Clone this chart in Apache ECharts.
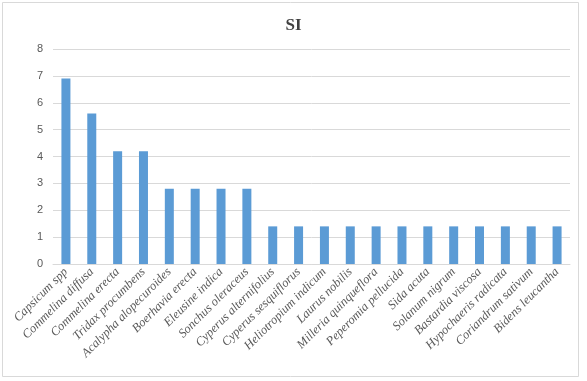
<!DOCTYPE html>
<html><head><meta charset="utf-8">
<script src="https://cdn.jsdelivr.net/npm/echarts@6/dist/echarts.min.js"></script>
<style>html,body{margin:0;padding:0;background:#fff}#c{width:587px;height:381px}</style>
</head><body><div id="c"></div>
<script>
const categories = ["Capsicum spp","Commelina diffusa","Commelina erecta","Tridax procumbens","Acalypha alopecuroides","Boerhavia erecta","Eleusine indica","Sonchus oleraceus","Cyperus alternifolius","Cyperus sesquiflorus","Heliotropium indicum","Laurus nobilis","Milleria quinqueflora","Peperomia pellucida","Sida acuta","Solanum nigrum","Bastardia viscosa","Hypochaeris radicata","Coriandrum sativum","Bidens leucantha"];
const siValues = [6.9,5.6,4.2,4.2,2.8,2.8,2.8,2.8,1.4,1.4,1.4,1.4,1.4,1.4,1.4,1.4,1.4,1.4,1.4,1.4];
const yTicks = [0,1,2,3,4,5,6,7,8];

const chart = echarts.init(document.getElementById('c'), null, {renderer:'canvas'});
chart.setOption({
  animation:false,
  backgroundColor:'#fff',
  graphic:[{type:'rect',shape:{x:2.5,y:2.5,width:576,height:374},style:{fill:'none',stroke:'#d9d9d9',lineWidth:1},silent:true}],
  title:{text:'SI',left:'center',top:12,textStyle:{fontFamily:'Liberation Serif',fontWeight:'bold',fontSize:17,color:'#404040'}},
  grid:{left:53,right:17,top:49,bottom:117,containLabel:false},
  xAxis:{type:'category',data:categories,
    axisLine:{lineStyle:{color:'#d9d9d9'}},axisTick:{show:false},
    axisLabel:{rotate:45,interval:0,margin:6,fontFamily:'Liberation Serif',fontStyle:'italic',fontSize:12.5,color:'#595959'}},
  yAxis:{type:'value',min:yTicks[0],max:yTicks[yTicks.length-1],interval:1,
    axisLine:{show:false},axisTick:{show:false},
    axisLabel:{fontFamily:'Liberation Sans',fontSize:11,color:'#595959',margin:10},
    splitLine:{lineStyle:{color:'#d9d9d9'}}},
  series:[{type:'bar',data:siValues,barWidth:9,itemStyle:{color:'#5b9bd5'}}]
});
</script></body></html>
